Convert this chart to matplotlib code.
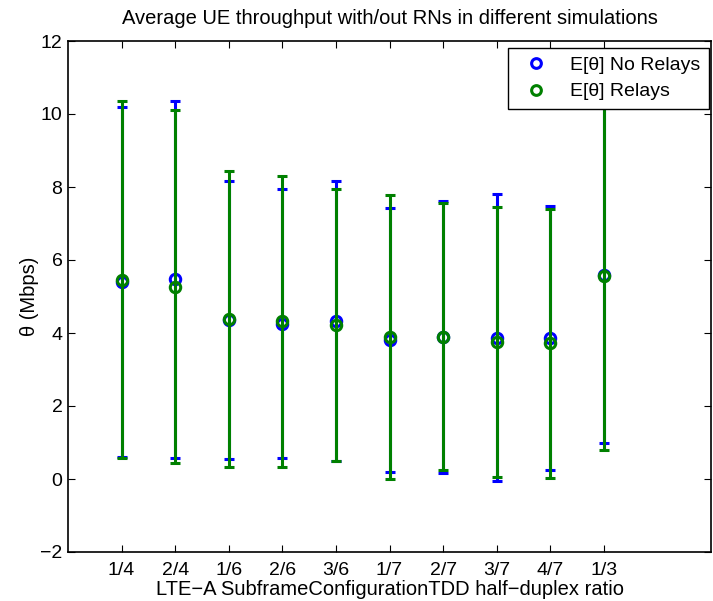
import matplotlib
matplotlib.use("Agg")
import matplotlib.pyplot as plt
from matplotlib.lines import Line2D
import numpy as np

plt.rcParams['font.family'] = ['Liberation Sans', 'DejaVu Sans']

# TDD half-duplex ratios simulated
ratios = ["1/4", "2/4", "1/6", "2/6", "3/6", "1/7", "2/7", "3/7", "4/7", "1/3"]

# Mean UE throughput (Mbps) and half-width of the spread, without relays
mean_no_relays = [5.40, 5.47, 4.35, 4.26, 4.33, 3.81, 3.89, 3.87, 3.87, 5.60]
err_no_relays = [4.79, 4.89, 3.81, 3.69, 3.84, 3.61, 3.73, 3.93, 3.61, 4.62]

# Same quantities with relay nodes deployed
mean_relays = [5.46, 5.27, 4.38, 4.32, 4.21, 3.89, 3.90, 3.75, 3.72, 5.57]
err_relays = [4.89, 4.84, 4.06, 3.98, 3.73, 3.90, 3.66, 3.69, 3.68, 4.78]

blue = (0, 0, 1)
green = (0, 0.5, 0)

fig = plt.figure(figsize=(7.13, 6.01), dpi=100)
ax = fig.add_axes([68 / 713, 1 - 552 / 601, 643 / 713, 511 / 601])

x = np.arange(1, len(ratios) + 1)

common = dict(fmt='o', elinewidth=2.2, capsize=3.6, capthick=2.2,
              markersize=7.5, markerfacecolor='none', markeredgewidth=2.2)
ax.errorbar(x, mean_no_relays, yerr=err_no_relays, color=blue, ecolor=blue,
            zorder=3, **common)
ax.errorbar(x, mean_relays, yerr=err_relays, color=green, ecolor=green,
            zorder=4, **common)

ax.set_xlim(0, 12)
ax.set_ylim(-2, 12)
ax.set_xticks(x)
ax.set_xticklabels(ratios)
ax.set_yticks(np.arange(-2, 13, 2))

ax.tick_params(direction='in', length=5, width=0.8, top=True, right=True,
               labelsize=14, pad=4)
ax.tick_params(axis='x', pad=7)
for s in ax.spines.values():
    s.set_linewidth(1.2)

ax.set_title("Average UE throughput with/out RNs in different simulations",
             fontsize=14.5, pad=12)
ax.set_xlabel(u"LTE\u2212A SubframeConfigurationTDD half\u2212duplex ratio",
              fontsize=14.5, labelpad=1)
ax.set_ylabel(u"\u03b8 (Mbps)", fontsize=14.5, labelpad=1)

handles = [
    Line2D([], [], linestyle='none', marker='o', markersize=7,
           markerfacecolor='none', markeredgecolor=blue, markeredgewidth=2.2),
    Line2D([], [], linestyle='none', marker='o', markersize=7,
           markerfacecolor='none', markeredgecolor=green, markeredgewidth=2.2),
]
labels = [u"E[\u03b8] No Relays", u"E[\u03b8] Relays"]
leg = ax.legend(handles, labels, loc='upper right',
                bbox_to_anchor=(0.9975, 0.987), fontsize=14, frameon=True,
                fancybox=False, edgecolor='black', framealpha=1,
                borderpad=0.45, labelspacing=0.45, handlelength=2.0,
                handletextpad=0.75, borderaxespad=0.0, numpoints=1)
leg.get_frame().set_linewidth(1.0)

fig.savefig("out.png", dpi=100)
